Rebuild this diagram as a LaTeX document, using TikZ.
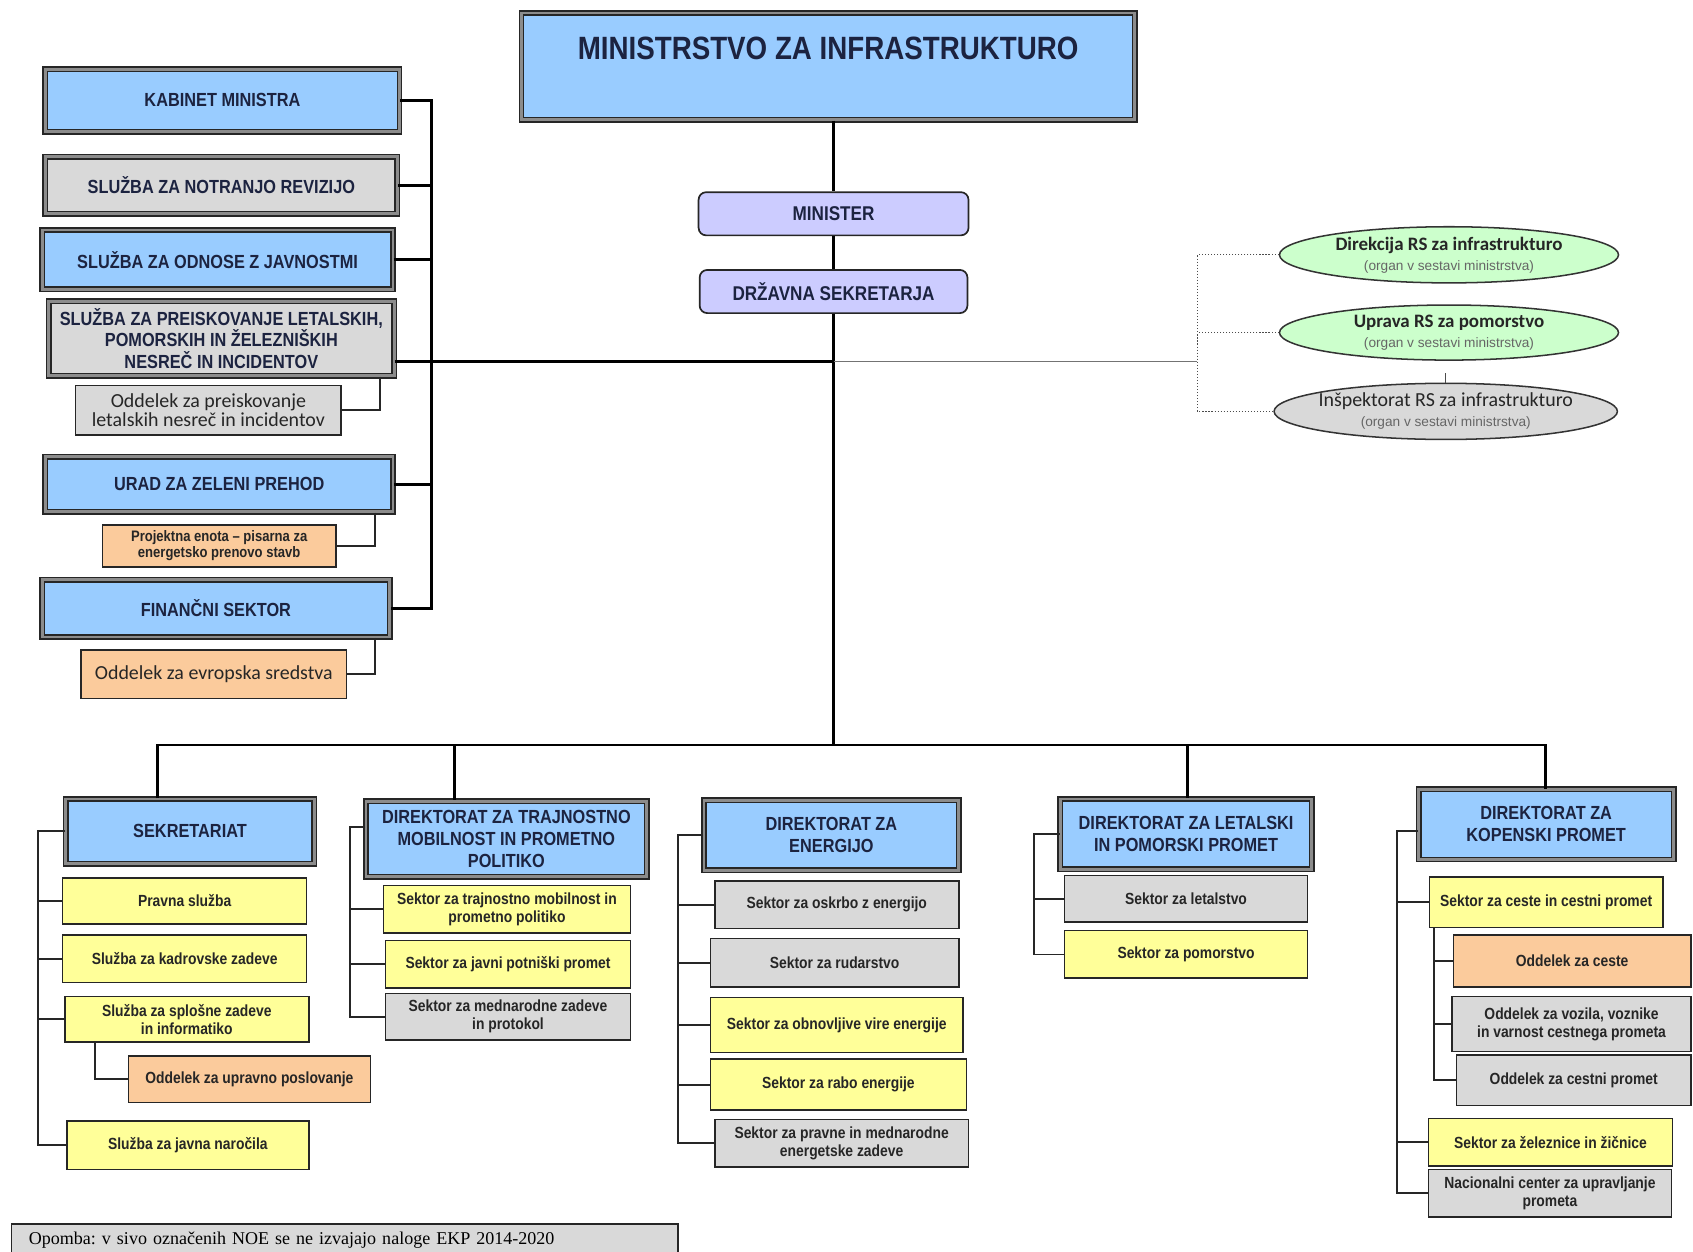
\documentclass[tikz,border=0pt]{standalone}
\usepackage{fontspec}
\setmainfont{Liberation Sans}
\newfontfamily\narrowfont[FakeStretch=0.86]{Liberation Sans}
\newfontfamily\calfont{Carlito}
\newfontfamily\timesfont{Liberation Serif}
\usetikzlibrary{shapes.geometric}
\frenchspacing
\definecolor{hdblue}{HTML}{99CCFF}
\definecolor{hdtext}{HTML}{1C2340}
\definecolor{boxgray}{HTML}{D9D9D9}
\definecolor{boxyellow}{HTML}{FFFF99}
\definecolor{boxorange}{HTML}{FBCB9C}
\definecolor{lavender}{HTML}{CCCCFF}
\definecolor{organgreen}{HTML}{CCFFCC}
\tikzset{
  sz/.style 2 args={minimum width=#1*0.02cm,minimum height=#2*0.02cm},
  hdbox/.style={draw=black!85,double=black!45,double distance=1.5pt,line width=0.8pt,fill=hdblue,align=center,inner sep=1pt,text=hdtext,font=\narrowfont\bfseries\fontsize{10}{11.5}\selectfont},
  hdgray/.style={hdbox,fill=boxgray},
  headbox/.style={draw=black!85,line width=0.9pt,fill=lavender,rounded corners=4pt,align=center,text=hdtext,font=\narrowfont\bfseries\fontsize{10.5}{12}\selectfont},
  unit/.style={draw=black!85,line width=0.8pt,align=center,inner sep=1pt,text=black!85,font=\narrowfont\bfseries\fontsize{8.5}{9.5}\selectfont},
  ylw/.style={unit,fill=boxyellow},
  gry/.style={unit,fill=boxgray},
  org/.style={unit,fill=boxorange},
  oddel/.style={draw=black!85,line width=0.8pt,align=center,inner sep=1pt,text=black!85,font=\calfont\fontsize{10.5}{12}\selectfont},
  organ/.style={ellipse,draw=black!80,line width=0.8pt,align=center,inner xsep=-4pt,inner ysep=0pt,text=black!85,font=\calfont\bfseries\fontsize{10}{11.5}\selectfont},
  lead/.style={draw=black,line width=1.5pt},
  link/.style={draw=black!85,line width=1pt}
}
\newcommand{\organsub}{\\[-1pt]{\rmfamily\mdseries\fontsize{7.2}{8}\selectfont\color{black!60}(organ v sestavi ministrstva)}}
\begin{document}
\begin{tikzpicture}[x=0.02cm,y=-0.02cm]
\useasboundingbox (0,0) rectangle (1568,1159);
\node[hdbox,sz={568}{99},text height=12pt,text depth=19pt,font=\narrowfont\bfseries\fontsize{17}{20}\selectfont] (min) at (767,61.5) {MINISTRSTVO ZA INFRASTRUKTURO};
\node[headbox,sz={250}{40}] (mst) at (772,198) {MINISTER};
\node[headbox,sz={248}{40}] (drz) at (772,270) {DRŽAVNA SEKRETARJA};
\node[hdbox,sz={328}{58}] (kab) at (206,93) {KABINET MINISTRA};
\node[hdgray,sz={326}{53}] (rev) at (205,171.5) {SLUŽBA ZA NOTRANJO  REVIZIJO};
\node[hdbox,sz={325}{55}] (odn) at (201.5,240.5) {SLUŽBA ZA ODNOSE Z JAVNOSTMI};
\node[hdgray,sz={320}{69}] (prei) at (205,313.5) {SLUŽBA ZA PREISKOVANJE LETALSKIH,\\POMORSKIH IN ŽELEZNIŠKIH\\NESREČ IN INCIDENTOV};
\node[oddel,fill=boxgray,sz={246}{46}] (oprei) at (193,380) {Oddelek za preiskovanje\\[-2pt]letalskih nesreč in incidentov};
\node[hdbox,sz={322}{51}] (urad) at (203,448.5) {URAD ZA ZELENI PREHOD};
\node[org,sz={216}{39},font=\narrowfont\bfseries\fontsize{8}{8.5}\selectfont] (proj) at (203,505.5) {Projektna enota – pisarna za\\energetsko  prenovo stavb};
\node[hdbox,sz={322}{53}] (fin) at (200,563.5) {FINANČNI SEKTOR};
\node[oddel,fill=boxorange,sz={246}{45}] (evr) at (198,624.5) {Oddelek za evropska sredstva};
\node[organ,fill=organgreen,sz={314}{52}] (eldir) at (1342,236) {Direkcija RS za infrastrukturo\organsub};
\node[organ,fill=organgreen,sz={314}{51}] (elupr) at (1342,308) {Uprava RS za pomorstvo\organsub};
\node[organ,fill=boxgray,sz={318}{52},font=\calfont\fontsize{10.5}{11.5}\selectfont] (elins) at (1339,381) {Inšpektorat RS za  infrastrukturo\organsub};
\node[hdbox,sz={230}{60}] (sek) at (176,770) {SEKRETARIAT};
\node[ylw,sz={226}{43}] (pravna) at (171,834.5) {Pravna služba};
\node[ylw,sz={226}{44}] (kadr) at (171,888) {Služba za kadrovske  zadeve};
\node[ylw,sz={226}{42}] (splos) at (173,944) {Služba za splošne zadeve\\in informatiko};
\node[org,sz={224}{43}] (upr) at (231,999.5) {Oddelek  za upravno poslovanje};
\node[ylw,sz={224}{45}] (javna) at (174,1060.5) {Služba za javna naročila};
\node[hdbox,sz={260}{70}] (dtm) at (469,777) {DIREKTORAT ZA  TRAJNOSTNO\\MOBILNOST IN PROMETNO\\POLITIKO};
\node[ylw,sz={229}{44}] (stm) at (469.5,842) {Sektor za trajnostno mobilnost in\\prometno politiko};
\node[ylw,sz={227}{44}] (jpp) at (470.5,893) {Sektor za javni potniški promet};
\node[gry,sz={227}{43}] (mzp) at (470.5,941.5) {Sektor za mednarodne zadeve\\in protokol};
\node[hdbox,sz={236}{65}] (den) at (770,773.5) {DIREKTORAT ZA\\ENERGIJO};
\node[gry,sz={226}{44}] (oskr) at (775,838) {Sektor za oskrbo z energijo};
\node[gry,sz={230}{45}] (rud) at (773,891.5) {Sektor za rudarstvo};
\node[ylw,sz={234}{51}] (obn) at (775,949.5) {Sektor za obnovljive vire energije};
\node[ylw,sz={237}{47}] (rabo) at (776.5,1004.5) {Sektor za rabo energije};
\node[gry,sz={235}{44}] (pme) at (779.5,1059) {Sektor za pravne in mednarodne\\energetske  zadeve};
\node[hdbox,sz={233}{65}] (dlp) at (1098.5,772.5) {DIREKTORAT ZA LETALSKI\\IN POMORSKI PROMET};
\node[gry,sz={225}{43}] (let) at (1098.5,832.5) {Sektor za letalstvo};
\node[ylw,sz={225}{44}] (pom) at (1098.5,884) {Sektor za pomorstvo};
\node[hdbox,sz={236}{65}] (dkp) at (1432,763.5) {DIREKTORAT ZA\\KOPENSKI PROMET};
\node[ylw,sz={216}{47}] (ces) at (1432,835.5) {Sektor za ceste in cestni promet};
\node[org,sz={220}{48}] (oces) at (1456,890) {Oddelek  za ceste};
\node[gry,sz={221}{51}] (ovoz) at (1455.5,948.5) {Oddelek  za vozila, voznike\\in varnost cestnega  prometa};
\node[gry,sz={217}{47}] (ocp) at (1457.5,1000.5) {Oddelek  za cestni  promet};
\node[ylw,sz={226}{44}] (zel) at (1436,1058) {Sektor za železnice in žičnice};
\node[gry,sz={225}{44}] (nc) at (1435.5,1105) {Nacionalni center za upravljanje\\prometa};
\node[draw=black!85,line width=0.8pt,fill=boxgray,anchor=north west,sz={617}{29},text width=11.7cm,align=left,font=\timesfont\fontsize{9.5}{11}\selectfont] (note) at (10,1133) {Opomba: v sivo označenih  NOE se ne izvajajo naloge EKP 2014-2020};
\coordinate (lb) at (400,0);
\coordinate (pj) at (772,335);
\coordinate (ej) at (1109,335);
\coordinate (oj) at (352,0);
\coordinate (uj) at (347,0);
\coordinate (bj) at (772,690);
\coordinate (b1) at (146,690);
\coordinate (b2) at (421,690);
\coordinate (b4) at (1100,690);
\coordinate (b5) at (1431,690);
\coordinate (t1) at (35,0);
\coordinate (t1s) at (88,0);
\coordinate (t2) at (324,0);
\coordinate (t3) at (628,0);
\coordinate (t4) at (958,0);
\coordinate (t5) at (1294,0);
\coordinate (t5s) at (1328,0);
\draw[lead] (mst.north |- min.south) -- (mst.north);
\draw[lead] (mst.south) -- (drz.north);
\draw[lead] (drz.south) -- (bj);
\draw[lead] (kab.east) -- (kab.east -| lb) -- (fin.east -| lb) -- (fin.east);
\foreach \n in {rev,odn,urad} \draw[lead] (\n.east) -- (\n.east -| lb);
\draw[lead] (prei.east |- pj) -- (pj);
\draw[link] (prei.south -| oj) |- (oprei.east);
\draw[link] (urad.south -| uj) |- (proj.east);
\draw[link] (fin.south -| uj) |- (evr.east);
\draw[black!55,line width=0.8pt] (pj) -- (ej);
\draw[black!70,densely dotted,line width=0.6pt] (eldir.west) -- (eldir.west -| ej) -- (elins.west -| ej) -- (elins.west);
\draw[black!70,densely dotted,line width=0.6pt] (elupr.west) -- (elupr.west -| ej);
\draw[black!70,line width=0.6pt] (elins.north) -- ++(0,-9);
\draw[lead] (b1 |- sek.north) -- (b1) -- (b5) -- (b5 |- dkp.north);
\draw[lead] (b2) -- (b2 |- dtm.north);
\draw[lead] (b4) -- (b4 |- dlp.north);
\draw[link] (sek.west) -- (sek.west -| t1) -- (javna.west -| t1) -- (javna.west);
\foreach \n in {pravna,kadr,splos} \draw[link] (\n.west) -- (\n.west -| t1);
\draw[link] (splos.south -| t1s) |- (upr.west);
\draw[link] (dtm.north west |- 0,766) -- (t2 |- 0,766) -- (mzp.west -| t2) -- (mzp.west);
\foreach \n in {stm,jpp} \draw[link] (\n.west) -- (\n.west -| t2);
\draw[link] (den.west) -- (den.west -| t3) -- (pme.west -| t3) -- (pme.west);
\foreach \n in {oskr,rud,obn,rabo} \draw[link] (\n.west) -- (\n.west -| t3);
\draw[link] (dlp.west) -- (dlp.west -| t4) -- (pom.west -| t4) -- (pom.west);
\draw[link] (let.west) -- (let.west -| t4);
\draw[link] (dkp.west |- 0,770) -- (t5 |- 0,770) -- (nc.west -| t5) -- (nc.west);
\foreach \n in {ces,zel} \draw[link] (\n.west) -- (\n.west -| t5);
\draw[link] (ces.south -| t5s) -- (ocp.west -| t5s) -- (ocp.west);
\foreach \n in {oces,ovoz} \draw[link] (\n.west) -- (\n.west -| t5s);
\end{tikzpicture}
\end{document}
